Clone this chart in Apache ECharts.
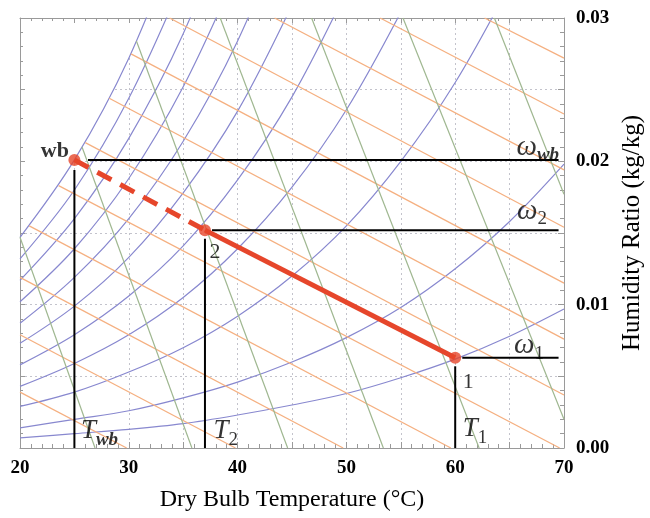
<!DOCTYPE html>
<html>
<head>
<meta charset="utf-8">
<script src="https://cdn.jsdelivr.net/npm/echarts@6/dist/echarts.min.js"></script>
<style>html,body{margin:0;padding:0;background:#fff}#main{width:650px;height:518px}</style>
</head>
<body>
<div id="main"></div>
<script>
// dry bulb temperatures (°C) where the relative humidity curves were read
var tdb = [20, 25, 30, 35, 40, 45, 50, 55, 60, 65, 70];
// humidity ratio (kg/kg) along each RH curve, 100% (saturation) down to 5%
var rh100 = [0.0147, 0.0201, 0.0272, 0.0366];
var rh90 = [0.0132, 0.0180, 0.0244, 0.0327];
var rh80 = [0.0117, 0.0160, 0.0216, 0.0289, 0.0385];
var rh70 = [0.0102, 0.0139, 0.0188, 0.0252, 0.0334];
var rh60 = [0.0087, 0.0119, 0.0160, 0.0214, 0.0284, 0.0375];
var rh50 = [0.0073, 0.0099, 0.0133, 0.0178, 0.0235, 0.0309];
var rh40 = [0.0058, 0.0079, 0.0106, 0.0141, 0.0187, 0.0245, 0.0319];
var rh30 = [0.0043, 0.0059, 0.0079, 0.0105, 0.0139, 0.0182, 0.0236, 0.0304];
var rh20 = [0.0029, 0.0039, 0.0053, 0.0070, 0.0092, 0.0120, 0.0155, 0.0200, 0.0255, 0.0323];
var rh10 = [0.0014, 0.0020, 0.0026, 0.0035, 0.0046, 0.0060, 0.0077, 0.0098, 0.0125, 0.0158, 0.0198];
var rh05 = [0.0007, 0.0010, 0.0013, 0.0017, 0.0023, 0.0030, 0.0038, 0.0049, 0.0062, 0.0078, 0.0097];

// constant enthalpy lines (orange), [T start, w start, T end, w end]
var enthalpyLines = [
  [20, 0.0039, 29.8, 0],
  [20, 0.0079, 39.8, 0],
  [20, 0.0119, 49.7, 0],
  [20.85, 0.0155, 59.6, 0],
  [23.55, 0.0183, 69.6, 0],
  [26.0, 0.0213, 70, 0.0037],
  [28.2, 0.0244, 70, 0.0076],
  [30.2, 0.0275, 70, 0.0115],
  [33.75, 0.030, 70, 0.0154],
  [43.4, 0.030, 70, 0.0194],
  [53.1, 0.030, 70, 0.0233],
  [62.7, 0.030, 70, 0.0272]
];

// constant specific volume lines (green), [T start, w start, T end, w end]
var volumeLines = [
  [20.0, 0.0147, 26.9, 0],
  [25.7, 0.0210, 35.8, 0],
  [30.7, 0.0284, 44.6, 0],
  [38.4, 0.030, 53.4, 0],
  [46.8, 0.030, 62.2, 0],
  [55.2, 0.030, 70, 0.0020],
  [63.6, 0.030, 70, 0.0177]
];

// state points: wet bulb, 2, 1  [T, w]
var ptWb = [25, 0.0201];
var pt2 = [37, 0.0152];
var pt1 = [60, 0.0063];

var xTicks = [20, 30, 40, 50, 60, 70];
var yTicks = ['0.00', '0.01', '0.02', '0.03'];

var serif = 'Liberation Serif';
var purple = '#8888cf', orange = '#f5b081', green = '#9fb790', red = '#e6462b';
var frame = '#9a9a9a';

var chart = echarts.init(document.getElementById('main'));

function curve(arr) {
  return arr.map(function (w, i) { return [tdb[i], w]; });
}

var series = [];
[rh100, rh90, rh80, rh70, rh60, rh50, rh40, rh30, rh20, rh10, rh05].forEach(function (arr, i) {
  var s = {
    type: 'line', data: curve(arr), smooth: 0.35,
    symbol: 'none', silent: true,
    lineStyle: {color: purple, width: 1.2}
  };
  // blank out the region above saturation (no grid there)
  if (i === 0) s.areaStyle = {color: '#fff', opacity: 1, origin: 'end'};
  series.push(s);
});
enthalpyLines.forEach(function (l) {
  series.push({type: 'line', data: [[l[0], l[1]], [l[2], l[3]]], symbol: 'none', silent: true,
    lineStyle: {color: orange, width: 1.3}});
});
volumeLines.forEach(function (l) {
  series.push({type: 'line', data: [[l[0], l[1]], [l[2], l[3]]], symbol: 'none', silent: true,
    lineStyle: {color: green, width: 1.2}});
});

// black construction lines
function blk(data) {
  return {type: 'line', data: data, symbol: 'none', silent: true, z: 4,
    lineStyle: {color: '#000', width: 2}};
}
series.push(blk([[ptWb[0] + 1.25, ptWb[1]], [69.5, ptWb[1]]]));
series.push(blk([[pt2[0] + 0.65, pt2[1]], [69.5, pt2[1]]]));
series.push(blk([[pt1[0] + 0.65, pt1[1]], [69.5, pt1[1]]]));
series.push(blk([[ptWb[0], ptWb[1] - 0.0007], [ptWb[0], 0]]));
series.push(blk([[pt2[0], pt2[1] - 0.0006], [pt2[0], 0]]));
series.push(blk([[pt1[0], pt1[1] - 0.0006], [pt1[0], 0]]));

// process line
series.push({type: 'line', data: [ptWb, pt2], symbol: 'none', silent: true, z: 5,
  lineStyle: {color: red, width: 5, type: [16, 10]}});
series.push({type: 'line', data: [pt2, pt1], symbol: 'none', silent: true, z: 5,
  lineStyle: {color: red, width: 5}});
series.push({type: 'scatter', data: [ptWb, pt2, pt1], symbol: 'circle', symbolSize: 12,
  silent: true, z: 6, itemStyle: {color: red}});

// text labels
var rich = {
  t: {fontFamily: serif, fontStyle: 'italic', fontSize: 27, lineHeight: 27, verticalAlign: 'top', color: '#000'},
  w: {fontFamily: serif, fontStyle: 'italic', fontSize: 29, lineHeight: 29, verticalAlign: 'top', color: '#000'},
  s: {fontFamily: serif, fontStyle: 'italic', fontWeight: 'bold', fontSize: 19, lineHeight: 19, verticalAlign: 'top', padding: [13, 0, 0, 0], color: '#000'},
  n: {fontFamily: serif, fontSize: 19, lineHeight: 19, verticalAlign: 'top', padding: [13, 0, 0, 0], color: '#000'},
  p: {fontFamily: serif, fontSize: 22, lineHeight: 22, color: '#000'},
  b: {fontFamily: serif, fontWeight: 'bold', fontSize: 22, lineHeight: 22, color: '#000'}
};
function lab(pt, text, pos, align) {
  return {value: pt, label: {show: true, formatter: text, position: pos, align: align, verticalAlign: 'top', rich: rich}};
}
series.push({
  type: 'scatter', symbolSize: 1, silent: true, z: 7,
  itemStyle: {color: 'rgba(0,0,0,0)'},
  data: [
    lab(ptWb, '{b|wb}', [-5, -19], 'right'),
    lab(pt2, '{p|2}', [5, 12], 'left'),
    lab(pt1, '{p|1}', [8, 14], 'left'),
    lab([ptWb[0], 0], '{t|T}{s|wb}', [7, -30], 'left'),
    lab([pt2[0], 0], '{t|T}{n|2}', [9, -30], 'left'),
    lab([pt1[0], 0], '{t|T}{n|1}', [8, -32], 'left'),
    lab([69.5, ptWb[1]], '{w|ω}{s|wb}', [1, -27], 'right'),
    lab([69.5, pt2[1]], '{w|ω}{n|2}', [-11, -33], 'right'),
    lab([69.5, pt1[1]], '{w|ω}{n|1}', [-14, -26], 'right')
  ]
});

var tickFont = {fontFamily: serif, fontWeight: 'bold', fontSize: 19, color: '#000'};

chart.setOption({
  animation: false,
  backgroundColor: '#fff',
  grid: {left: 20, right: 86, top: 18, bottom: 70, containLabel: false, outerBoundsMode: 'none'},
  xAxis: [{
    type: 'value', position: 'bottom', min: 20, max: 70, interval: 5, z: 0,
    axisLine: {show: true, onZero: false, lineStyle: {color: frame}},
    axisTick: {show: true, inside: true, length: 6, lineStyle: {color: frame}},
    minorTick: {show: true, splitNumber: 5, length: 4, lineStyle: {color: frame}},
    axisLabel: Object.assign({margin: 11, formatter: function (v) {
      return xTicks.indexOf(v) >= 0 ? String(v) : '';
    }}, tickFont),
    splitLine: {show: true, lineStyle: {color: '#c3c3cc', width: 1, type: [2, 3]}},
    name: 'Dry Bulb Temperature (°C)', nameLocation: 'middle', nameGap: 40,
    nameTextStyle: {fontFamily: serif, fontSize: 24, color: '#000'}
  }, {
    type: 'value', position: 'top', min: 20, max: 70, interval: 5, z: 3,
    axisLine: {show: true, onZero: false, lineStyle: {color: frame}},
    axisTick: {show: true, inside: true, length: 5, lineStyle: {color: frame}},
    minorTick: {show: true, splitNumber: 5, length: 3, lineStyle: {color: frame}},
    axisLabel: {show: false}, splitLine: {show: false}
  }],
  yAxis: [{
    type: 'value', position: 'right', min: 0, max: 0.03, interval: 0.005, z: 0,
    axisLine: {show: true, onZero: false, lineStyle: {color: frame}},
    axisTick: {show: true, inside: true, length: 6, lineStyle: {color: frame}},
    minorTick: {show: true, splitNumber: 5, length: 4, lineStyle: {color: frame}},
    axisLabel: Object.assign({margin: 12, formatter: function (v) {
      var k = Math.round(v * 1000);
      return k % 10 === 0 ? yTicks[k / 10] : '';
    }}, tickFont),
    splitLine: {show: true, lineStyle: {color: '#c3c3cc', width: 1, type: [2, 3]}},
    name: 'Humidity Ratio (kg/kg)', nameLocation: 'middle', nameRotate: 90, nameGap: 52,
    nameTextStyle: {fontFamily: serif, fontSize: 25, color: '#000'}
  }, {
    type: 'value', position: 'left', min: 0, max: 0.03, interval: 0.005, z: 3,
    axisLine: {show: true, onZero: false, lineStyle: {color: frame}},
    axisTick: {show: true, inside: true, length: 5, lineStyle: {color: frame}},
    minorTick: {show: true, splitNumber: 5, length: 3, lineStyle: {color: frame}},
    axisLabel: {show: false}, splitLine: {show: false}
  }],
  series: series
});
</script>
</body>
</html>
